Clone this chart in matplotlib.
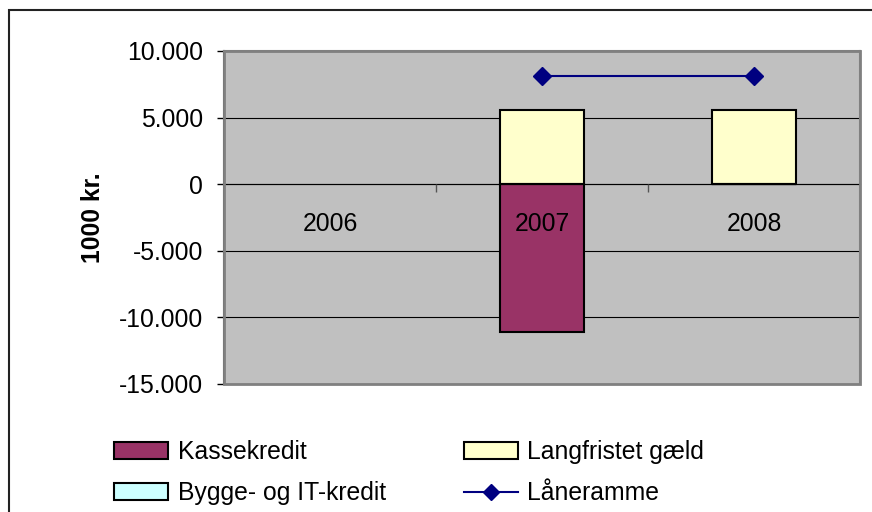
import numpy as np
import matplotlib
matplotlib.use("Agg")
import matplotlib.pyplot as plt
from matplotlib.patches import Rectangle, Patch
from matplotlib.lines import Line2D
from matplotlib.ticker import FuncFormatter, FixedLocator

categories = ["2006", "2007", "2008"]
kassekredit = [np.nan, -11100, 0]
langfristet = [np.nan, 5600, 5600]
bygge_it = [np.nan, 0, 0]
laaneramme = [np.nan, 8100, 8100]

series_names = ["Kassekredit", "Langfristet gæld", "Bygge- og IT-kredit", "Låneramme"]
yticks = [10000, 5000, 0, -5000, -10000, -15000]

plt.rcParams['font.family'] = ['Liberation Sans', 'DejaVu Sans']
FS = 17.8

W, H = 872, 512
fig = plt.figure(figsize=(W / 100, H / 100), dpi=100)
fig.patch.set_facecolor('white')

ax = fig.add_axes([224 / W, (H - 384) / H, 636 / W, 333 / H])
ax.set_facecolor('#C0C0C0')

x = np.arange(len(categories))
bw = 0.4
ax.bar(x, kassekredit, bw, color='#993366', edgecolor='black', linewidth=1.5, zorder=3)
ax.bar(x, langfristet, bw, color='#FFFFCC', edgecolor='black', linewidth=1.5, zorder=3)
ax.bar(x, bygge_it, bw, color='#CCFFFF', edgecolor='black', linewidth=1.5, zorder=3)
ax.plot(x, laaneramme, color='#000080', linewidth=1.5, marker='D', markersize=9,
        markerfacecolor='#000080', markeredgecolor='#000080', zorder=4)

ax.set_xlim(-0.5, len(categories) - 0.5)
ax.set_ylim(-15000, 10000)

ax.set_yticks(yticks)
ax.yaxis.set_major_formatter(FuncFormatter(lambda v, p: f"{int(v):,}".replace(",", ".")))
ax.tick_params(axis='y', length=5, width=1, color='black', labelsize=FS, pad=10, direction='out')
ax.grid(axis='y', color='black', linewidth=0.8, zorder=1)
ax.grid(axis='x', visible=False)

# x axis at zero
ax.spines['bottom'].set_position(('data', 0))
ax.spines['bottom'].set_color('black')
ax.spines['bottom'].set_linewidth(0.8)
ax.set_xticks(x)
ax.set_xticklabels(categories)
ax.xaxis.set_minor_locator(FixedLocator([0.5, 1.5]))
ax.tick_params(axis='x', which='major', length=0, labelsize=FS, pad=20)
ax.tick_params(axis='x', which='minor', length=6, width=1, color='#555555', direction='out')
ax.xaxis.set_zorder(6)

for s in ['top', 'right']:
    ax.spines[s].set_color('#808080')
    ax.spines[s].set_linewidth(1.5)
ax.spines['left'].set_color('#404040')
ax.spines['left'].set_linewidth(1.5)
ax.add_patch(Rectangle((0, 0), 1, 1, transform=ax.transAxes, fill=False,
                       edgecolor='#808080', linewidth=2, clip_on=False, zorder=5))

ax.set_ylabel("1000 kr.", fontsize=FS, fontweight='bold', labelpad=10)

# outer chart frame (right and bottom edges lie outside the image)
fig.add_artist(Rectangle((9 / W, -0.1), 1.2, (H - 10) / H + 0.1, transform=fig.transFigure,
                         fill=False, edgecolor='#222222', linewidth=1.5))

handles = [
    Patch(facecolor='#993366', edgecolor='black', linewidth=1.5),
    Patch(facecolor='#CCFFFF', edgecolor='black', linewidth=1.5),
    Patch(facecolor='#FFFFCC', edgecolor='black', linewidth=1.5),
    Line2D([], [], color='#000080', linewidth=1.5, marker='D', markersize=8,
           markerfacecolor='#000080'),
]
labels = [series_names[0], series_names[2], series_names[1], series_names[3]]
fig.legend(handles, labels, ncol=2, loc='upper left',
           bbox_to_anchor=(114 / W, (H - 440) / H), frameon=False, fontsize=FS,
           handlelength=2.2, handleheight=0.66, handletextpad=0.37,
           columnspacing=3.15, labelspacing=0.7, borderpad=0, borderaxespad=0)

fig.savefig("out.png", dpi=100)
